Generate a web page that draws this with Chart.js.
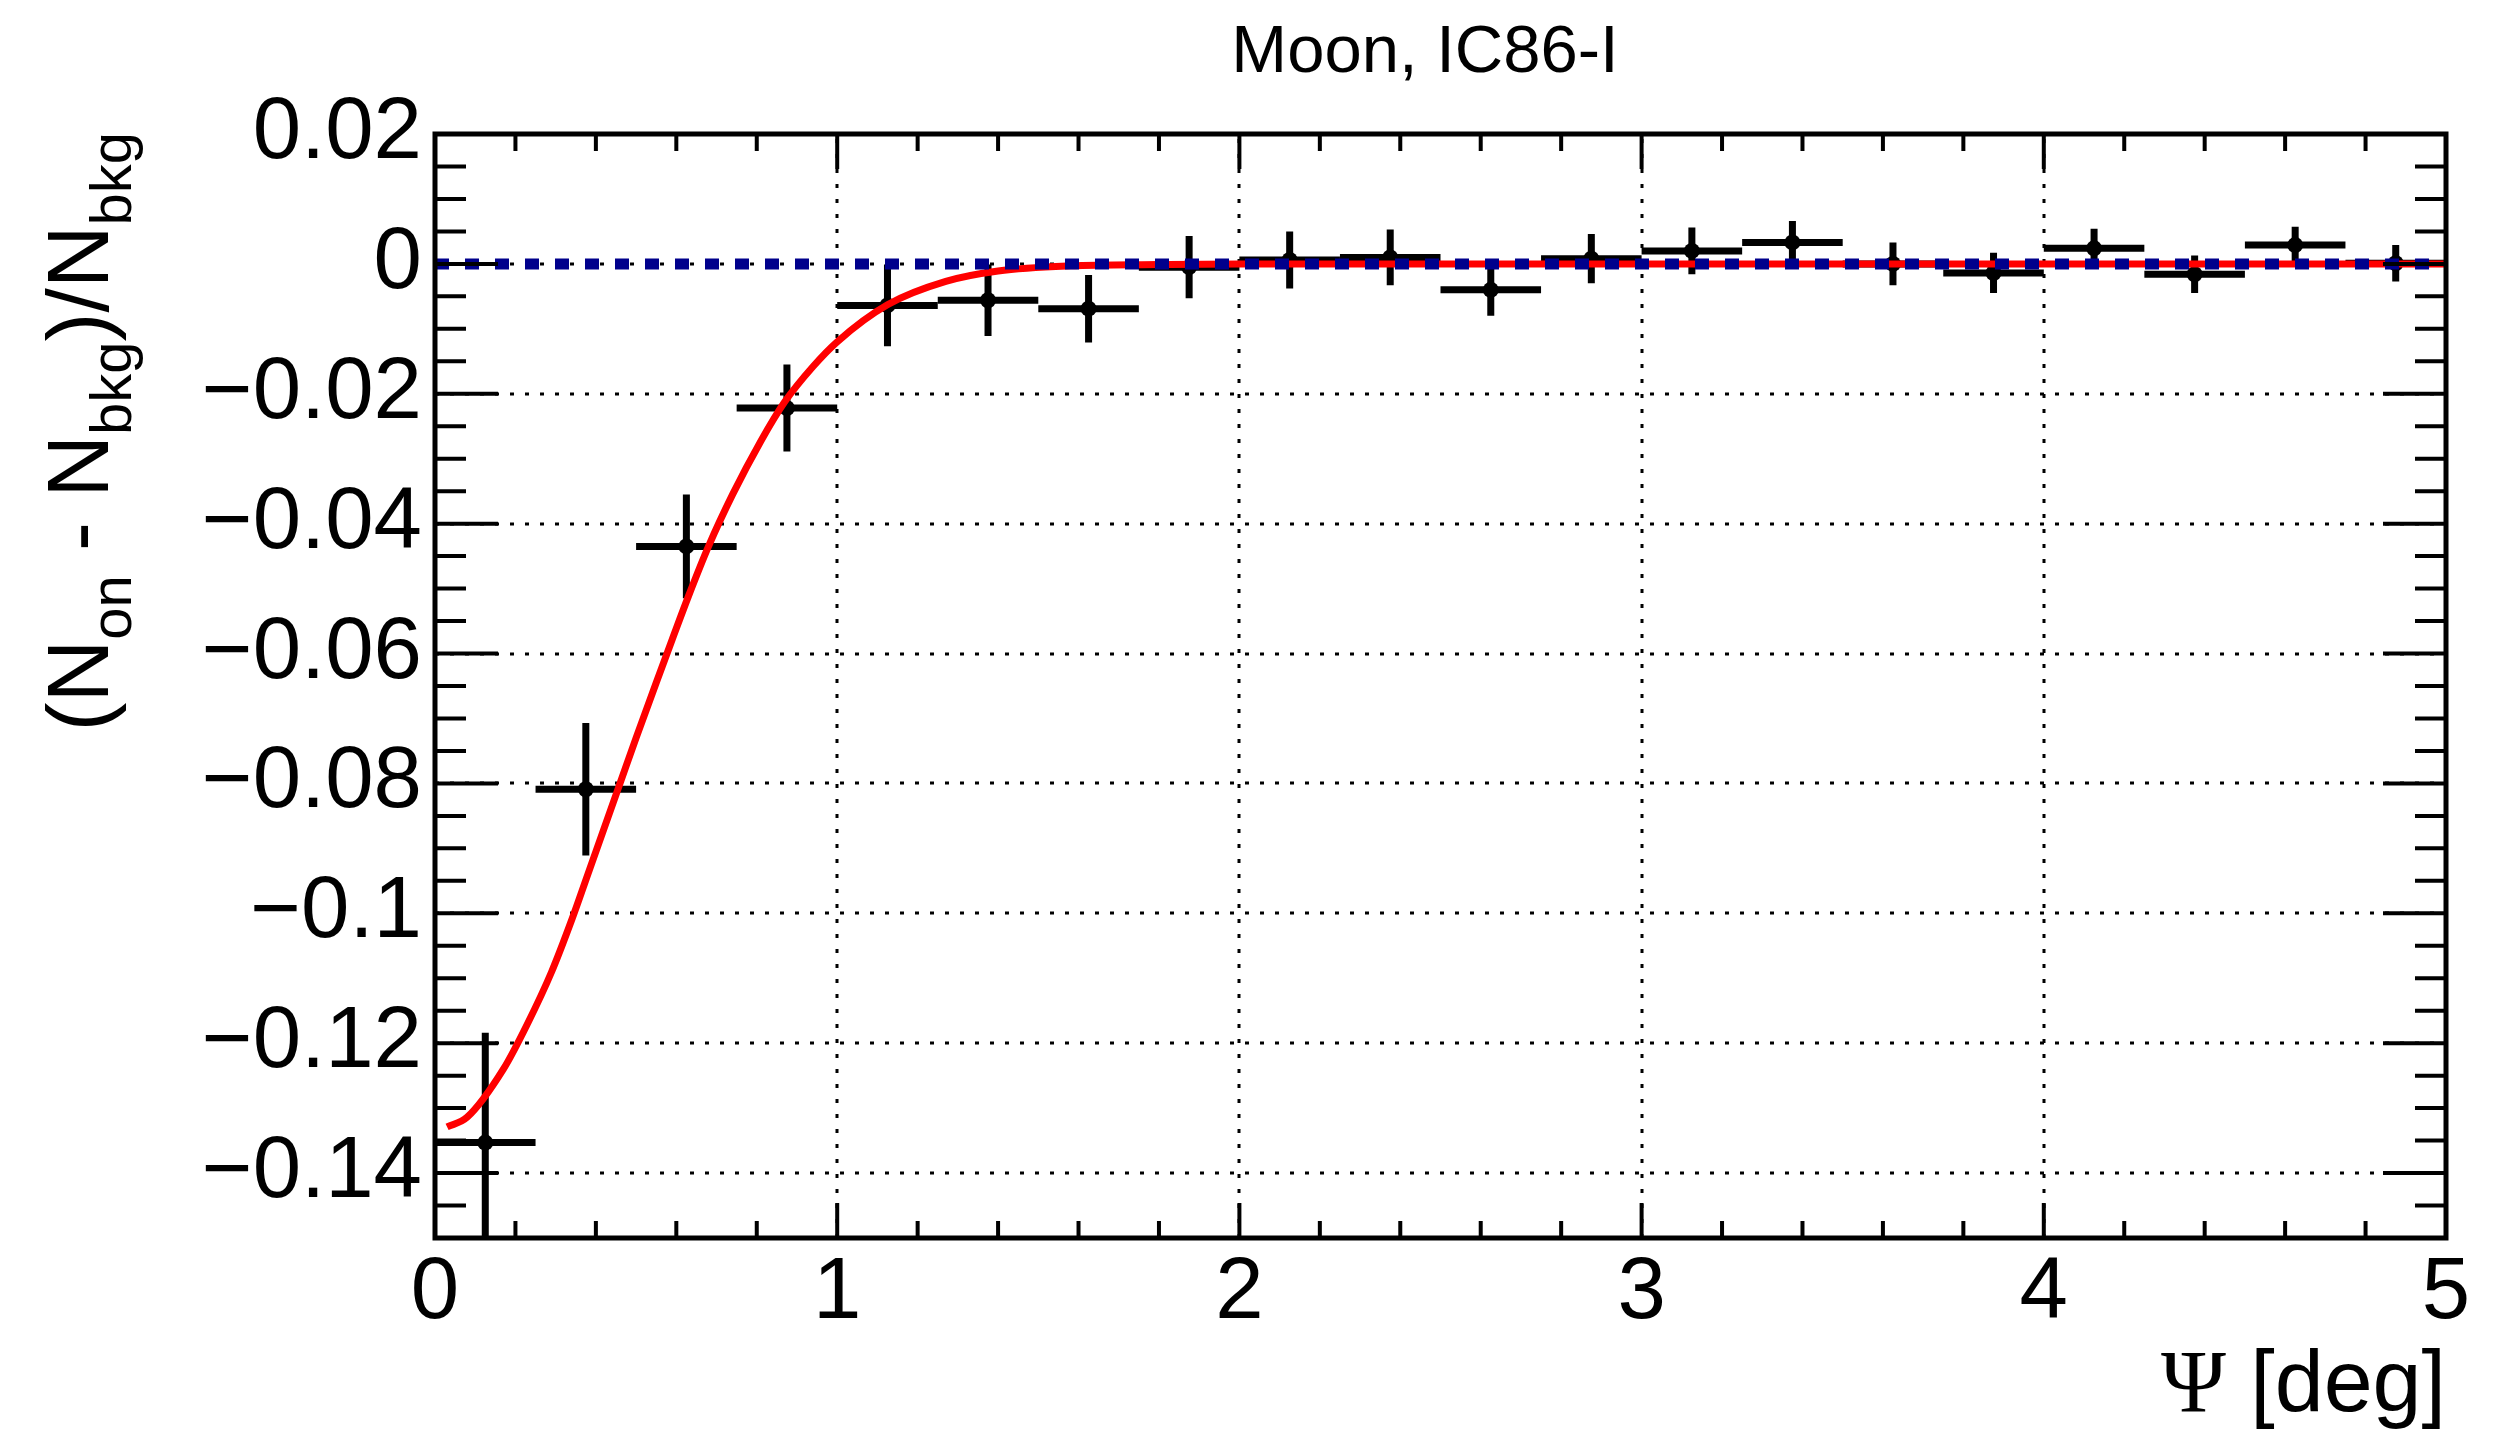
<!DOCTYPE html>
<html>
<head>
<meta charset="utf-8">
<title>Moon, IC86-I</title>
<script src="https://cdn.jsdelivr.net/npm/chart.js"></script>
<style>
  body { margin: 0; background: #fff; }
  canvas { display: block; }
</style>
</head>
<body>
<canvas id="myChart" width="2515" height="1432" style="width:2515px;height:1432px"></canvas>
<script>
// data
var binCenters = [0.125, 0.375, 0.625, 0.875, 1.125, 1.375, 1.625, 1.875, 2.125, 2.375,
                  2.625, 2.875, 3.125, 3.375, 3.625, 3.875, 4.125, 4.375, 4.625, 4.875];
var binHalfWidth = 0.125;
var ratio = [-0.1353, -0.0809, -0.0435, -0.0222, -0.0064, -0.0056, -0.0069, -0.0005, 0.0006, 0.0010,
             -0.0040, 0.0008, 0.0020, 0.0033, 0.0000, -0.0014, 0.0024, -0.0016, 0.0029, 0.0001];
var ratioErr = [0.0169, 0.0102, 0.0080, 0.0067, 0.0063, 0.0055, 0.0052, 0.0048, 0.0044, 0.0043,
                0.0040, 0.0038, 0.0036, 0.0033, 0.0033, 0.0031, 0.0030, 0.0029, 0.0028, 0.0028];

// fitted curve (red)
var fitX = [0.03, 0.08, 0.17, 0.23, 0.29, 0.34, 0.38, 0.46, 0.50, 0.55, 0.59, 0.63, 0.68,
            0.74, 0.81, 0.87, 0.94, 1.00, 1.125, 1.27, 1.40, 1.58, 1.80, 2.0, 3.0, 4.0, 5.0];
var fitY = [-0.1329, -0.1314, -0.1240, -0.1170, -0.1090, -0.1010, -0.0940, -0.0800, -0.0730, -0.0645, -0.0578, -0.0512, -0.0435,
            -0.0355, -0.0273, -0.0212, -0.0158, -0.0120, -0.0063, -0.0027, -0.0011, -0.0003, -0.0001, 0, 0, 0, 0];

// no-shadow reference line (blue dotted)
var zeroX = [0, 5];
var zeroY = [0, 0];

var xTicks = [0, 1, 2, 3, 4, 5];
var xTickLabels = ['0', '1', '2', '3', '4', '5'];
var yTicks = [-0.14, -0.12, -0.1, -0.08, -0.06, -0.04, -0.02, 0, 0.02];
var yTickLabels = ['\u22120.14', '\u22120.12', '\u22120.1', '\u22120.08', '\u22120.06', '\u22120.04', '\u22120.02', '0', '0.02'];

var FONT = 'Liberation Sans, Arial, Helvetica, sans-serif';

function pairs(xs, ys) {
  var out = [];
  for (var i = 0; i < xs.length; i++) out.push({ x: xs[i], y: ys[i] });
  return out;
}

// ROOT-like frame, ticks, grid, error bars and labels
var rootStyle = {
  id: 'rootStyle',
  beforeDatasetsDraw: function (chart) {
    var c = chart.ctx, a = chart.chartArea, sx = chart.scales.x, sy = chart.scales.y;
    c.save();
    // dotted grid on major ticks
    c.strokeStyle = '#000';
    c.lineWidth = 3;
    c.setLineDash([4, 11]);
    for (var i = 0; i < xTicks.length; i++) {
      var px = Math.round(sx.getPixelForValue(xTicks[i]));
      if (px <= a.left + 2 || px >= a.right - 2) continue;
      c.beginPath(); c.moveTo(px, a.bottom); c.lineTo(px, a.top); c.stroke();
    }
    for (var j = 0; j < yTicks.length; j++) {
      var py = Math.round(sy.getPixelForValue(yTicks[j]));
      if (py <= a.top + 2 || py >= a.bottom - 2) continue;
      c.beginPath(); c.moveTo(a.left, py); c.lineTo(a.right, py); c.stroke();
    }
    c.setLineDash([]);
    // error bars
    c.beginPath();
    c.rect(a.left, a.top, a.right - a.left, a.bottom - a.top);
    c.clip();
    c.lineWidth = 7;
    c.lineCap = 'butt';
    for (var k = 0; k < binCenters.length; k++) {
      var xl = sx.getPixelForValue(binCenters[k] - binHalfWidth);
      var xr = sx.getPixelForValue(binCenters[k] + binHalfWidth);
      var xc = sx.getPixelForValue(binCenters[k]);
      var yc = sy.getPixelForValue(ratio[k]);
      var yt = sy.getPixelForValue(ratio[k] + ratioErr[k]);
      var yb = sy.getPixelForValue(ratio[k] - ratioErr[k]);
      c.beginPath();
      c.moveTo(xl, yc); c.lineTo(xr, yc);
      c.moveTo(xc, yt); c.lineTo(xc, yb);
      c.stroke();
    }
    c.restore();
  },
  afterDraw: function (chart) {
    var c = chart.ctx, a = chart.chartArea, sx = chart.scales.x, sy = chart.scales.y;
    c.save();
    c.strokeStyle = '#000';
    c.lineWidth = 4;
    // x ticks, bottom and top, pointing inwards
    for (var v = 0; v <= 5.0001; v += 0.2) {
      var px = sx.getPixelForValue(v);
      var major = Math.abs(v - Math.round(v)) < 1e-6;
      var len = major ? 35 : 17;
      c.beginPath();
      c.moveTo(px, a.bottom); c.lineTo(px, a.bottom - len);
      c.moveTo(px, a.top); c.lineTo(px, a.top + len);
      c.stroke();
    }
    // y ticks, left and right
    for (var n = -30; n <= 4; n++) {
      var val = n * 0.005;
      var py = sy.getPixelForValue(val);
      var len2 = (n % 4 === 0) ? 63 : 31;
      c.beginPath();
      c.moveTo(a.left, py); c.lineTo(a.left + len2, py);
      c.moveTo(a.right, py); c.lineTo(a.right - len2, py);
      c.stroke();
    }
    // frame
    c.lineWidth = 5;
    c.strokeRect(a.left, a.top, a.right - a.left, a.bottom - a.top);

    c.fillStyle = '#000';
    // title
    c.font = '67px ' + FONT;
    c.textAlign = 'center';
    c.textBaseline = 'alphabetic';
    c.fillText('Moon, IC86-I', 1425, 72);

    // x title: Psi [deg], right aligned to the axis end
    c.textAlign = 'left';
    c.font = '88px ' + FONT;
    var rest = ' [deg]';
    var wRest = c.measureText(rest).width;
    c.font = '88px Liberation Serif, Times New Roman, serif';
    var wPsi = c.measureText('\u03A8').width;
    var x0 = a.right - wRest - wPsi;
    c.fillText('\u03A8', x0, 1411);
    c.font = '88px ' + FONT;
    c.fillText(rest, x0 + wPsi, 1411);

    // y title with subscripts, rotated, ending at top of axis
    var parts = [['(N', 0], ['on', 1], [' - N', 0], ['bkg', 1], [')/N', 0], ['bkg', 1]];
    var big = '87px ' + FONT, small = '58px ' + FONT;
    var total = 0;
    for (var p = 0; p < parts.length; p++) {
      c.font = parts[p][1] ? small : big;
      total += c.measureText(parts[p][0]).width;
    }
    c.translate(108, 132);
    c.rotate(-Math.PI / 2);
    var cx = -total;
    for (var q = 0; q < parts.length; q++) {
      c.font = parts[q][1] ? small : big;
      c.fillText(parts[q][0], cx, parts[q][1] ? 23 : 0);
      cx += c.measureText(parts[q][0]).width;
    }
    c.restore();
  }
};

var ctx = document.getElementById('myChart').getContext('2d');
var chart = new Chart(ctx, {
  type: 'scatter',
  data: {
    datasets: [
      {
        label: 'zero',
        type: 'line',
        data: pairs(zeroX, zeroY),
        borderColor: '#00008c',
        borderWidth: 11,
        borderDash: [14, 16],
        pointRadius: 0,
        order: 0
      },
      {
        label: 'fit',
        type: 'line',
        data: pairs(fitX, fitY),
        borderColor: '#ff0000',
        borderWidth: 7,
        pointRadius: 0,
        cubicInterpolationMode: 'monotone',
        order: 1
      },
      {
        label: 'data',
        data: pairs(binCenters, ratio),
        backgroundColor: '#000',
        borderWidth: 0,
        pointRadius: 8,
        order: 2
      }
    ]
  },
  options: {
    responsive: false,
    animation: false,
    devicePixelRatio: 1,
    layout: { padding: { top: 134, right: 69, left: 0, bottom: 0 } },
    plugins: { legend: { display: false }, tooltip: { enabled: false }, title: { display: false } },
    scales: {
      x: {
        type: 'linear', min: 0, max: 5,
        afterFit: function (s) { s.height = 194; },
        afterBuildTicks: function (s) { s.ticks = xTicks.map(function (v) { return { value: v }; }); },
        ticks: {
          callback: function (v, i) { return xTickLabels[i]; },
          font: { family: FONT, size: 87 }, color: '#000', padding: 4,
          autoSkip: false, maxRotation: 0
        },
        grid: { display: false, drawTicks: false },
        border: { display: false }
      },
      y: {
        type: 'linear', min: -0.15, max: 0.02,
        afterFit: function (s) { s.width = 435; },
        afterBuildTicks: function (s) { s.ticks = yTicks.map(function (v) { return { value: v }; }); },
        ticks: {
          callback: function (v, i) { return yTickLabels[i]; },
          font: { family: FONT, size: 87 }, color: '#000', padding: 13,
          autoSkip: false
        },
        grid: { display: false, drawTicks: false },
        border: { display: false }
      }
    }
  },
  plugins: [rootStyle]
});
</script>
</body>
</html>
